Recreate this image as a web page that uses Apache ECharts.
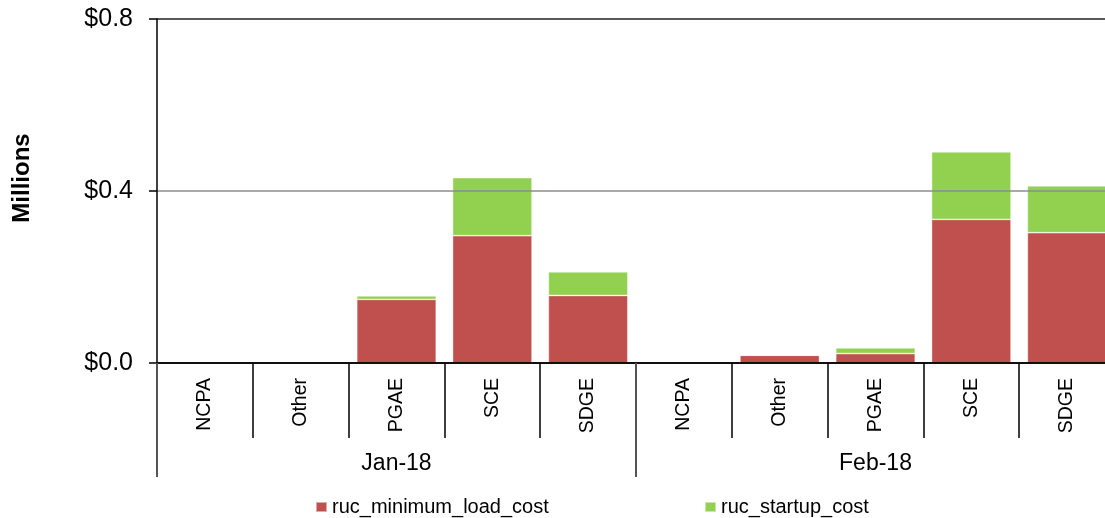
<!DOCTYPE html>
<html>
<head>
<meta charset="utf-8">
<script src="https://cdn.jsdelivr.net/npm/echarts@6/dist/echarts.min.js"></script>
<style>
html,body{margin:0;padding:0;background:#fff;overflow:hidden;}
#chart{width:1115px;height:518px;}
</style>
</head>
<body>
<div id="chart"></div>
<script>
const categories = ['NCPA','Other','PGAE','SCE','SDGE','NCPA','Other','PGAE','SCE','SDGE'];
const groups = ['Jan-18','Feb-18'];
const minimumLoadCost = [0, 0, 0.148, 0.296, 0.157, 0, 0.018, 0.022, 0.334, 0.303];
const startupCost = [0, 0, 0.008, 0.135, 0.055, 0, 0, 0.013, 0.157, 0.109];
const yTicks = [0, 0.4, 0.8];

const FONT = '"Liberation Sans", Arial, sans-serif';
const chart = echarts.init(document.getElementById('chart'));
chart.setOption({
  animation: false,
  backgroundColor: '#fff',
  grid: { left: 157, top: 19, width: 958, height: 344, containLabel: false },
  graphic: [{
    type: 'text', x: 22, y: 178, rotation: Math.PI / 2,
    style: { text: 'Millions', font: 'bold 24px ' + FONT, fill: '#000', textAlign: 'center', textVerticalAlign: 'middle' }
  }],
  legend: [
    { data: ['ruc_minimum_load_cost'], left: 315, top: 497, padding: 0, icon: 'rect', itemWidth: 11, itemHeight: 10, itemGap: 5,
      textStyle: { fontFamily: FONT, fontSize: 20, color: '#000' } },
    { data: ['ruc_startup_cost'], left: 704, top: 497, padding: 0, icon: 'rect', itemWidth: 11, itemHeight: 10, itemGap: 5,
      textStyle: { fontFamily: FONT, fontSize: 20, color: '#000' } }
  ],
  xAxis: [
    {
      type: 'category', data: categories, position: 'bottom', z: 10,
      axisLine: { show: true, lineStyle: { color: '#000', width: 1.5 } },
      axisTick: { show: true, interval: 0, length: 75, lineStyle: { color: '#000', width: 1.5 } },
      axisLabel: { interval: 0, rotate: 90, margin: 15, fontFamily: FONT, fontSize: 19.5, color: '#000' },
      splitLine: { show: false }
    },
    {
      type: 'category', data: groups, position: 'bottom', z: 10,
      axisLine: { show: false },
      axisTick: { show: true, interval: 0, length: 114, lineStyle: { color: '#555', width: 2 } },
      axisLabel: { interval: 0, margin: 89, fontFamily: FONT, fontSize: 23, color: '#000' },
      splitLine: { show: false }
    }
  ],
  yAxis: {
    type: 'value', min: 0, max: 0.8, interval: 0.4, z: 10,
    axisLine: { show: true, lineStyle: { color: '#000', width: 1.5 } },
    axisTick: { show: true, length: 8, lineStyle: { color: '#000', width: 1.5 } },
    axisLabel: {
      margin: 24, fontFamily: FONT, fontSize: 25, color: '#000',
      formatter: v => yTicks.indexOf(Math.round(v * 10) / 10) >= 0 ? '$' + v.toFixed(1) : ''
    },
    splitLine: { show: true, lineStyle: { color: ['#000', '#8c8c8c', '#222'], width: 1.5 } }
  },
  series: [
    {
      name: 'ruc_minimum_load_cost', type: 'bar', stack: 'total', xAxisIndex: 0,
      data: minimumLoadCost, barCategoryGap: '17%',
      itemStyle: { color: '#C0504D', borderColor: 'rgba(255,255,255,0.5)', borderWidth: 0.8 }
    },
    {
      name: 'ruc_startup_cost', type: 'bar', stack: 'total', xAxisIndex: 0,
      data: startupCost, barCategoryGap: '17%',
      itemStyle: { color: '#92D050', borderColor: 'rgba(255,255,255,0.5)', borderWidth: 0.8 }
    }
  ]
});
</script>
</body>
</html>
